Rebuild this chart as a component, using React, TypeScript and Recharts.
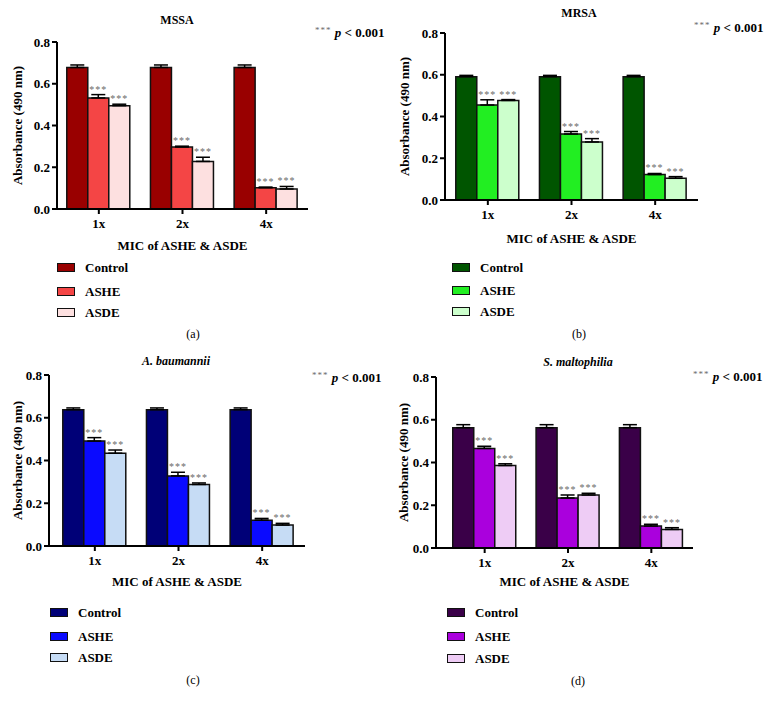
import { BarChart, Bar, XAxis, YAxis, ErrorBar, LabelList } from 'recharts'

const categories = ['1x', '2x', '4x']
const seriesNames = ['Control', 'ASHE', 'ASDE']
const yTicks = [0, 0.2, 0.4, 0.6, 0.8]

// MSSA
const mssaControl = [0.678, 0.678, 0.678]
const mssaControlErr = [0.012, 0.012, 0.012]
const mssaAshe = [0.532, 0.297, 0.102]
const mssaAsheErr = [0.016, 0.004, 0.003]
const mssaAsde = [0.495, 0.228, 0.096]
const mssaAsdeErr = [0.007, 0.02, 0.012]

// MRSA
const mrsaControl = [0.591, 0.591, 0.591]
const mrsaControlErr = [0.006, 0.006, 0.006]
const mrsaAshe = [0.455, 0.316, 0.122]
const mrsaAsheErr = [0.025, 0.012, 0.005]
const mrsaAsde = [0.477, 0.278, 0.104]
const mrsaAsdeErr = [0.004, 0.016, 0.008]

// A. baumannii
const abControl = [0.638, 0.638, 0.638]
const abControlErr = [0.008, 0.008, 0.008]
const abAshe = [0.491, 0.328, 0.121]
const abAsheErr = [0.016, 0.017, 0.008]
const abAsde = [0.434, 0.288, 0.098]
const abAsdeErr = [0.015, 0.007, 0.008]

// S. maltophilia
const smControl = [0.563, 0.563, 0.563]
const smControlErr = [0.014, 0.014, 0.014]
const smAshe = [0.466, 0.234, 0.103]
const smAsheErr = [0.01, 0.014, 0.008]
const smAsde = [0.386, 0.248, 0.087]
const smAsdeErr = [0.008, 0.008, 0.008]

const FONT = '"Liberation Serif", "DejaVu Serif", serif'

const panels = [
  {
    tag: '(a)', title: 'MSSA', italic: false,
    colors: ['#990000', '#f44545', '#fde0e0'],
    values: [mssaControl, mssaAshe, mssaAsde],
    errors: [mssaControlErr, mssaAsheErr, mssaAsdeErr],
    box: { x: 0, y: 0 },
    plot: { l: 57, t: 42, r: 308, b: 209 },
    pad: { left: 0, right: 0 },
    titlePos: [177, 20], pPos: [315, 32], yLabelX: 17, xLabelY: 245,
    legend: { x: 57, ys: [267, 291, 312] }, tagPos: [193, 334],
  },
  {
    tag: '(b)', title: 'MRSA', italic: false,
    colors: ['#005500', '#22ee22', '#ccffcc'],
    values: [mrsaControl, mrsaAshe, mrsaAsde],
    errors: [mrsaControlErr, mrsaAsheErr, mrsaAsdeErr],
    box: { x: 386, y: 0 },
    plot: { l: 445, t: 33, r: 698, b: 200 },
    pad: { left: 1, right: 1 },
    titlePos: [579, 13], pPos: [694, 27], yLabelX: 404, xLabelY: 238,
    legend: { x: 452, ys: [267, 290, 311] }, tagPos: [579, 334],
  },
  {
    tag: '(c)', title: 'A. baumannii', italic: true,
    colors: ['#000077', '#0a0aff', '#c6dcf5'],
    values: [abControl, abAshe, abAsde],
    errors: [abControlErr, abAsheErr, abAsdeErr],
    box: { x: 0, y: 355 },
    plot: { l: 49, t: 375, r: 305, b: 546 },
    pad: { left: 4, right: 1 },
    titlePos: [176, 361], pPos: [312, 377], yLabelX: 17, xLabelY: 581,
    legend: { x: 50, ys: [612, 636, 657] }, tagPos: [193, 680],
  },
  {
    tag: '(d)', title: 'S. maltophilia', italic: true,
    colors: ['#3a0048', '#aa00dd', '#eeccf5'],
    values: [smControl, smAshe, smAsde],
    errors: [smControlErr, smAsheErr, smAsdeErr],
    box: { x: 386, y: 355 },
    plot: { l: 436, t: 377, r: 693, b: 548 },
    pad: { left: 7, right: 0 },
    titlePos: [578, 362], pPos: [693, 376], yLabelX: 403, xLabelY: 581,
    legend: { x: 447, ys: [612, 636, 658] }, tagPos: [578, 681],
  },
]

const keys = ['control', 'ashe', 'asde']

function starLabel(errs: number[], pxPerUnit: number) {
  return (p: any) => {
    const vb = p.viewBox ?? p
    const x = (vb.x ?? p.x) + (vb.width ?? p.width) / 2
    const top = vb.y ?? p.y
    const e = errs[p.index] ?? 0
    return (
      <text
        x={x}
        y={top - e * pxPerUnit - 2}
        textAnchor="middle"
        fontSize={10}
        fill="#6a6a6a"
        letterSpacing={1}
        fontFamily={FONT}
      >
        ***
      </text>
    )
  }
}

function Centered({ x, y, children, style }: any) {
  return (
    <div
      style={{
        position: 'absolute', left: x, top: y, transform: 'translate(-50%, -50%)',
        whiteSpace: 'nowrap', lineHeight: 1, ...style,
      }}
    >
      {children}
    </div>
  )
}

function Panel({ cfg }: { cfg: (typeof panels)[number] }) {
  const { box, plot } = cfg
  const yAxisW = 40
  const chartW = 386
  const chartH = cfg.xLabelY - box.y + 12
  const xAxisH = chartH - (plot.b - box.y)
  const pxPerUnit = (plot.b - plot.t) / 0.8

  const data = categories.map((cat, i) => {
    const row: any = { cat }
    keys.forEach((k, s) => {
      row[k] = cfg.values[s][i]
      row[k + 'Err'] = [0, cfg.errors[s][i]]
    })
    return row
  })

  const axisStroke = { stroke: '#000', strokeWidth: 2 }
  const tickStyle = { fill: '#000', fontSize: 13, fontWeight: 700, fontFamily: FONT }

  return (
    <>
      <div style={{ position: 'absolute', left: box.x, top: box.y }}>
        <BarChart
          width={chartW}
          height={chartH}
          data={data}
          barCategoryGap="11.7%"
          barGap={0}
          margin={{
            top: plot.t - box.y,
            right: box.x + chartW - plot.r,
            bottom: 0,
            left: plot.l - box.x - yAxisW,
          }}
        >
          <XAxis
            dataKey="cat"
            height={xAxisH}
            axisLine={axisStroke}
            tickLine={axisStroke}
            tickSize={5}
            tickMargin={5}
            tick={tickStyle}
            padding={cfg.pad}
            label={{
              content: () => (
                <text
                  x={(plot.l + plot.r) / 2 - box.x}
                  y={cfg.xLabelY - box.y}
                  textAnchor="middle"
                  dominantBaseline="central"
                  fontSize={13}
                  fontWeight={700}
                  fontFamily={FONT}
                  fill="#000"
                >
                  MIC of ASHE &amp; ASDE
                </text>
              ),
            }}
          />
          <YAxis
            width={yAxisW}
            domain={[0, 0.8]}
            ticks={yTicks}
            interval={0}
            tickFormatter={(v: number) => v.toFixed(1)}
            axisLine={axisStroke}
            tickLine={axisStroke}
            tickSize={5}
            tickMargin={2}
            tick={tickStyle}
            label={{
              content: () => {
                const cx = cfg.yLabelX - box.x
                const cy = (plot.t + plot.b) / 2 - box.y
                return (
                  <text
                    x={cx}
                    y={cy}
                    transform={`rotate(-90, ${cx}, ${cy})`}
                    textAnchor="middle"
                    dominantBaseline="central"
                    fontSize={13}
                    fontWeight={700}
                    fontFamily={FONT}
                    fill="#000"
                  >
                    Absorbance (490 nm)
                  </text>
                )
              },
            }}
          />
          {keys.map((k, s) => (
            <Bar
              key={k}
              dataKey={k}
              name={seriesNames[s]}
              fill={cfg.colors[s]}
              stroke="#111"
              strokeWidth={1.5}
              isAnimationActive={false}
            >
              <ErrorBar
                dataKey={k + 'Err'}
                direction="y"
                width={7}
                stroke="#000"
                strokeWidth={1.5}
                isAnimationActive={false}
              />
              {s > 0 && (
                <LabelList dataKey={k} content={starLabel(cfg.errors[s], pxPerUnit)} />
              )}
            </Bar>
          ))}
        </BarChart>
      </div>

      <Centered
        x={cfg.titlePos[0]}
        y={cfg.titlePos[1]}
        style={{ fontSize: 12, fontWeight: 700, fontStyle: cfg.italic ? 'italic' : 'normal' }}
      >
        {cfg.title}
      </Centered>

      <div
        style={{
          position: 'absolute', left: cfg.pPos[0], top: cfg.pPos[1], transform: 'translateY(-50%)',
          whiteSpace: 'nowrap', lineHeight: 1, fontSize: 13, fontWeight: 700,
        }}
      >
        <span style={{ fontSize: 9, fontWeight: 400, color: '#6a6a6a', verticalAlign: '4px', letterSpacing: 1 }}>
          ***
        </span>{' '}
        <i>p</i> &lt; 0.001
      </div>

      {seriesNames.map((name, s) => (
        <div
          key={name}
          style={{
            position: 'absolute', left: cfg.legend.x, top: cfg.legend.ys[s] - 6,
            display: 'flex', alignItems: 'center', height: 12,
          }}
        >
          <span
            style={{
              width: 16, height: 7, background: cfg.colors[s], border: '1.5px solid #111',
              display: 'inline-block',
            }}
          />
          <span style={{ marginLeft: 10, fontSize: 13, fontWeight: 700, lineHeight: 1 }}>{name}</span>
        </div>
      ))}

      <Centered x={cfg.tagPos[0]} y={cfg.tagPos[1]} style={{ fontSize: 12 }}>
        {cfg.tag}
      </Centered>
    </>
  )
}

export default function App() {
  return (
    <div
      style={{
        position: 'absolute', left: 0, top: 0, width: 772, height: 706,
        background: '#fff', fontFamily: FONT, color: '#000', overflow: 'hidden',
      }}
    >
      {panels.map((cfg) => (
        <Panel key={cfg.tag} cfg={cfg} />
      ))}
    </div>
  )
}
